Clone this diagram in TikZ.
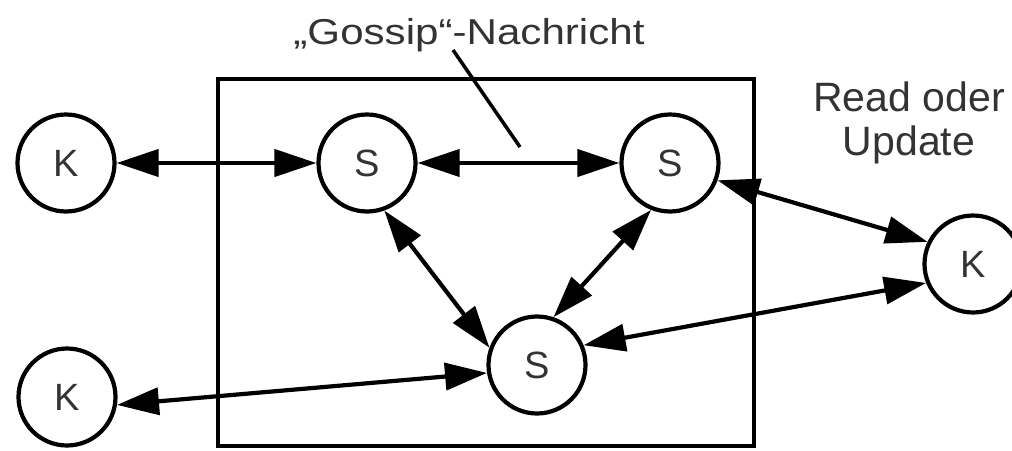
\documentclass[tikz,border=0pt]{standalone}
\usepackage{fontspec}
\setmainfont{Liberation Sans}
\usetikzlibrary{arrows.meta}
\begin{document}
\begin{tikzpicture}[x=1pt,y=-1pt,
  rolle/.style={circle,draw,line width=4.2pt,minimum size=97pt,inner sep=0pt,
    fill=white,text=black!80,font=\fontsize{38}{42}\selectfont},
  link/.style={line width=4.2pt,
    {Triangle[length=42pt 0,width=27pt 0]}-{Triangle[length=42pt 0,width=27pt 0]}},
  lbl/.style={text=black!80,inner sep=0pt}]
\useasboundingbox (0,0) rectangle (1012,450);

% server group
\draw[line width=4pt] (218,79) rectangle (754,446);

% clients and servers
\node[rolle] (k1) at (66,163) {K};
\node[rolle] (s1) at (367,163) {S};
\node[rolle] (s2) at (670,163) {S};
\node[rolle] (k2) at (973,264) {K};
\node[rolle] (s3) at (537,365) {S};
\node[rolle] (k3) at (67,397) {K};

% message exchange
\draw[link] (k1) -- (s1);
\draw[link] (s1) -- (s2);
\draw[link] (s1.-70) -- (s3.160);
\draw[link] (s2.248) -- (s3.71);
\draw[link] (s2.-20) -- (k2.154);
\draw[link] (s3.23) -- (k2.202);
\draw[link] (s3.189) -- (k3.-9);

% labels
\node[lbl,anchor=base,font=\fontsize{36}{40}\selectfont] (gossip) at (469,44)
  {\scalebox{1.17}[1]{„Gossip“-Nachricht}};
\node[lbl,anchor=base,align=center,font=\fontsize{41}{44}\selectfont] (rou) at (909,155)
  {Read oder\\Update};

% pointer from the label to the link between the servers
\coordinate (lt) at (453,50);
\coordinate (lb) at (520,147);
\draw[line width=3.5pt] (lt) -- (lb);
\end{tikzpicture}
\end{document}
